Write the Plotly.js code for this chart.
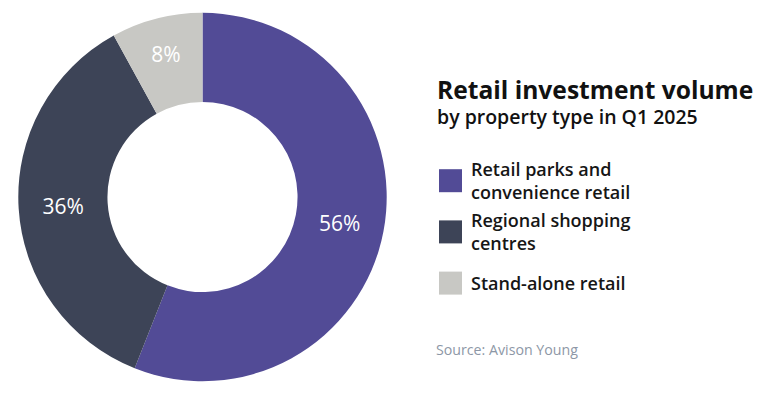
<!DOCTYPE html>
<html>
<head>
<meta charset="utf-8">
<script src="https://cdn.plot.ly/plotly-3.0.1.min.js"></script>
<style>
  html, body { margin: 0; padding: 0; background: #ffffff; }
  #chart { width: 780px; height: 395px; }
</style>
</head>
<body>
<div id="chart"></div>
<script>
// ---- data ----
const categories = [
  "Retail parks and<br>convenience retail",
  "Regional shopping<br>centres",
  "Stand-alone retail"
];
const shares = [56, 36, 8];
const colors = ["#524B96", "#3D4457", "#C8C8C4"];
const titleText = "Retail investment volume";
const subtitleText = "by property type in Q1 2025";
const sourceText = "Source: Avison Young";

// ---- layout helpers (pixel -> paper) ----
const W = 780, H = 395;
const px = x => x / W;
const py = y => 1 - y / H;
const FONT = "Open Sans, Noto Sans, sans-serif";

const pie = {
  type: "pie",
  labels: categories,
  values: shares,
  sort: false,
  direction: "clockwise",
  rotation: 0,
  hole: 0.516,
  marker: { colors: colors, line: { width: 0 } },
  texttemplate: "%{value}%",
  textposition: "inside",
  insidetextorientation: "horizontal",
  insidetextfont: { family: FONT, size: 21, color: "#ffffff" },
  showlegend: false,
  hoverinfo: "label+percent",
  domain: { x: [px(18.3), px(386.7)], y: [py(381.7), py(12.3)] }
};

const shapes = [];
const annotations = [];

// title block (title + subtitle in one text block)
annotations.push({
  xref: "paper", yref: "paper", x: px(435), y: py(101.4),
  xanchor: "left", yanchor: "middle", align: "left", showarrow: false,
  text: "<b><span style='font-size:24.6px'>" + titleText + "</span></b><br>" + subtitleText,
  font: { family: FONT, size: 19.5, weight: 600, color: "#111111" }
});

// legend (built from categories & colors)
categories.forEach((c, i) => {
  const cy = 180.7 + i * 51.2;
  shapes.push({
    type: "rect", xref: "paper", yref: "paper",
    x0: px(439), x1: px(462), y0: py(cy - 11.5), y1: py(cy + 11.5),
    fillcolor: colors[i], line: { width: 0 }
  });
  annotations.push({
    xref: "paper", yref: "paper", x: px(469), y: py(cy),
    xanchor: "left", yanchor: "middle", align: "left", showarrow: false,
    text: c,
    font: { family: FONT, size: 18, weight: 600, color: "#161616" }
  });
});

// source
annotations.push({
  xref: "paper", yref: "paper", x: px(434), y: py(349.6),
  xanchor: "left", yanchor: "middle", showarrow: false,
  text: sourceText,
  font: { family: FONT, size: 14.2, color: "#8D97A6" }
});

const layout = {
  width: W, height: H,
  margin: { l: 0, r: 0, t: 0, b: 0 },
  paper_bgcolor: "#ffffff",
  plot_bgcolor: "#ffffff",
  font: { family: FONT },
  showlegend: false,
  shapes: shapes,
  annotations: annotations
};

Plotly.newPlot("chart", [pie], layout, { displayModeBar: false, staticPlot: true });
</script>
</body>
</html>
